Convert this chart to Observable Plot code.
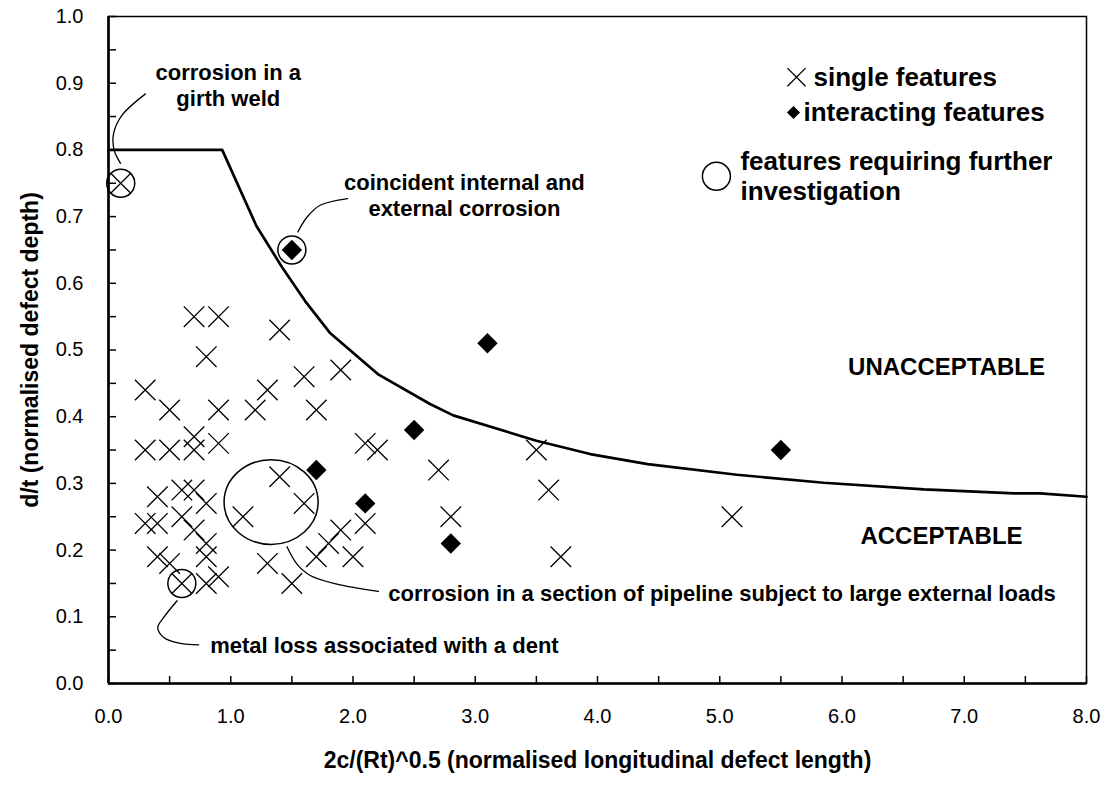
<!DOCTYPE html>
<html><head><meta charset="utf-8">
<script src="https://cdn.jsdelivr.net/npm/d3@7"></script>
<script src="https://cdn.jsdelivr.net/npm/@observablehq/plot@0.6"></script>
<style>
body{margin:0;background:#fff;}
#chart{width:1115px;height:787px;}
</style>
</head><body><div id="chart"></div>
<script>
// ---- data ----
const singleX = [0.1,0.7,0.9,1.4,0.8,0.3,1.3,1.6,1.9,0.5,0.9,1.2,1.7,0.3,0.5,0.7,0.7,0.9,2.1,2.2,1.4,0.4,0.6,0.7,0.8,1.6,2.7,3.5,3.6,0.3,0.4,0.6,0.7,1.1,2.1,2.8,1.9,0.4,0.5,0.8,0.8,1.8,1.7,2.0,1.3,3.7,0.6,0.8,0.9,1.5,5.1];
const singleY = [0.75,0.55,0.55,0.53,0.49,0.44,0.44,0.46,0.47,0.41,0.41,0.41,0.41,0.35,0.35,0.35,0.37,0.36,0.36,0.35,0.31,0.28,0.29,0.29,0.27,0.27,0.32,0.35,0.29,0.24,0.24,0.25,0.23,0.25,0.24,0.25,0.23,0.19,0.18,0.21,0.19,0.21,0.19,0.19,0.18,0.19,0.15,0.15,0.16,0.15,0.25];
const interactX = [1.5,3.1,2.5,1.7,2.1,2.8,5.5];
const interactY = [0.65,0.51,0.38,0.32,0.27,0.21,0.35];
const investigateX = [0.1,1.5,0.6];
const investigateY = [0.75,0.65,0.15];
const regionX = [1.33];
const regionY = [0.272];
const limitX = [0,0.93,1.21,1.42,1.61,1.81,2.21,2.63,2.82,3.50,3.94,4.41,5.14,5.85,6.67,7.41,7.62,8.0];
const limitY = [0.8,0.8,0.686,0.624,0.573,0.526,0.463,0.419,0.402,0.364,0.344,0.329,0.313,0.301,0.291,0.285,0.285,0.280];
const xTicks = [0,0.5,1,1.5,2,2.5,3,3.5,4,4.5,5,5.5,6,6.5,7,7.5,8];
const yTicks = [0,0.05,0.1,0.15,0.2,0.25,0.3,0.35,0.4,0.45,0.5,0.55,0.6,0.65,0.7,0.75,0.8,0.85,0.9,0.95,1.0];
const xTitle = "2c/(Rt)^0.5 (normalised longitudinal defect length)";
const yTitle = "d/t (normalised defect depth)";
// centred annotations
const noteCText = ["corrosion in a","girth weld","coincident internal and","external corrosion"];
const noteCX = [0.980,0.980,2.911,2.911];
const noteCY = [0.916,0.876,0.751,0.712];
// left-aligned annotations
const noteLText = ["corrosion in a section of pipeline subject to large external loads","metal loss associated with a dent"];
const noteLX = [2.289,0.832];
const noteLY = [0.135,0.057];
const regionText = ["UNACCEPTABLE","ACCEPTABLE"];
const regionLabelX = [6.855,6.814];
const regionLabelY = [0.474,0.220];
const legendText = ["single features","interacting features","features requiring further","investigation"];
const legendX = [5.767,5.685,5.169,5.169];
const legendY = [0.909,0.856,0.783,0.738];
// leader lines (data coordinates)
const leaders = [
  {id:"girth", x:[0.302,0.111,0.041,0.047,0.098], y:[0.884,0.852,0.824,0.799,0.780]},
  {id:"coinc", x:[1.956,1.731,1.623,1.549], y:[0.727,0.717,0.699,0.677]},
  {id:"loads", x:[1.460,1.542,1.650,1.868,2.208], y:[0.205,0.179,0.162,0.149,0.138]},
  {id:"dent",  x:[0.561,0.452,0.403,0.452,0.588,0.738], y:[0.124,0.099,0.084,0.069,0.060,0.058]}
];

// ---- tables ----
const zip = (xs, ys) => xs.map((x, i) => ({x, y: ys[i]}));
const single = zip(singleX, singleY);
const interact = zip(interactX, interactY);
const investigate = zip(investigateX, investigateY);
const region = zip(regionX, regionY);
const limit = zip(limitX, limitY);
const notesC = noteCText.map((t, i) => ({t, x: noteCX[i], y: noteCY[i]}));
const notesL = noteLText.map((t, i) => ({t, x: noteLX[i], y: noteLY[i]}));
const regions = regionText.map((t, i) => ({t, x: regionLabelX[i], y: regionLabelY[i]}));
const legend = legendText.map((t, i) => ({t, x: legendX[i], y: legendY[i]}));
const legendCircle = [{x: legendX[2], y: (legendY[2] + legendY[3]) / 2}];
const leaderRows = leaders.flatMap(l => l.x.map((x, i) => ({id: l.id, x, y: l.y[i]})));

const ellipseSymbol = {
  draw(ctx, size) {
    const rx = Math.sqrt(size / Math.PI), ry = rx * 0.9, k = 0.5523;
    ctx.moveTo(rx, 0);
    ctx.bezierCurveTo(rx, ry * k, rx * k, ry, 0, ry);
    ctx.bezierCurveTo(-rx * k, ry, -rx, ry * k, -rx, 0);
    ctx.bezierCurveTo(-rx, -ry * k, -rx * k, -ry, 0, -ry);
    ctx.bezierCurveTo(rx * k, -ry, rx, -ry * k, rx, 0);
    ctx.closePath();
  }
};

const font = "'Liberation Sans', Arial, Helvetica, sans-serif";
const fmt1 = d => (Math.round(d * 100) % 10 === 0 ? d.toFixed(1) : null);

const chart = Plot.plot({
  width: 1115, height: 787,
  marginLeft: 108, marginRight: 29, marginTop: 16, marginBottom: 104,
  x: {domain: [0, 8]},
  y: {domain: [0, 1]},
  style: {fontFamily: font, fontSize: "20px", color: "#000", background: "#fff", overflow: "visible"},
  marks: [
    Plot.line(limit, {x: "x", y: "y", stroke: "#000", strokeWidth: 2.7}),
    Plot.dot(single, {x: "x", y: "y", symbol: "times", r: 9.4, stroke: "#000", strokeWidth: 1.3}),
    Plot.dot(interact, {x: "x", y: "y", symbol: "diamond2", r: 9.2, fill: "#000", stroke: "none"}),
    Plot.dot(investigate, {x: "x", y: "y", r: 14, fill: "none", stroke: "#000", strokeWidth: 1.5}),
    Plot.dot(region, {x: "x", y: "y", symbol: ellipseSymbol, r: 47, fill: "none", stroke: "#000", strokeWidth: 1.5}),
    Plot.line(leaderRows, {x: "x", y: "y", z: "id", curve: "catmull-rom", stroke: "#000", strokeWidth: 1.3}),
    Plot.text(notesC, {x: "x", y: "y", text: "t", textAnchor: "middle", fontWeight: "bold", fontSize: 22, fill: "#000"}),
    Plot.text(notesL, {x: "x", y: "y", text: "t", textAnchor: "start", fontWeight: "bold", fontSize: 22, fill: "#000"}),
    Plot.text(regions, {x: "x", y: "y", text: "t", textAnchor: "middle", fontWeight: "bold", fontSize: 24, fill: "#000"}),
    Plot.text(legend, {x: "x", y: "y", text: "t", textAnchor: "start", fontWeight: "bold", fontSize: 26, fill: "#000"}),
    Plot.dot(legend.slice(0, 1), {x: "x", y: "y", dx: -17, symbol: "times", r: 8.3, stroke: "#000", strokeWidth: 1.3}),
    Plot.dot(legend.slice(1, 2), {x: "x", y: "y", dx: -10, symbol: "diamond2", r: 5.9, fill: "#000", stroke: "none"}),
    Plot.dot(legendCircle, {x: "x", y: "y", dx: -24, r: 14, fill: "none", stroke: "#000", strokeWidth: 1.5}),
    Plot.frame({stroke: "#000", strokeWidth: 1.5}),
    Plot.ruleX([0], {stroke: "#000", strokeWidth: 2.6}),
    Plot.ruleY([0], {stroke: "#000", strokeWidth: 2.6}),
    Plot.axisX(xTicks, {tickSize: -7, tickPadding: 32, strokeWidth: 1.5, tickFormat: d => (Number.isInteger(d) ? d.toFixed(1) : null), label: null, fontSize: 20}),
    Plot.axisY(yTicks, {tickSize: -8, tickPadding: 33, strokeWidth: 1.5, tickFormat: fmt1, label: null, fontSize: 20}),
    Plot.text([xTitle], {frameAnchor: "bottom", dy: 77, lineAnchor: "middle", textAnchor: "middle", fontWeight: "bold", fontSize: 23, fill: "#000"}),
    Plot.text([yTitle], {frameAnchor: "left", dx: -78, rotate: -90, textAnchor: "middle", lineAnchor: "middle", fontWeight: "bold", fontSize: 23, fill: "#000"})
  ]
});
document.getElementById("chart").append(chart);
</script>
</body></html>
